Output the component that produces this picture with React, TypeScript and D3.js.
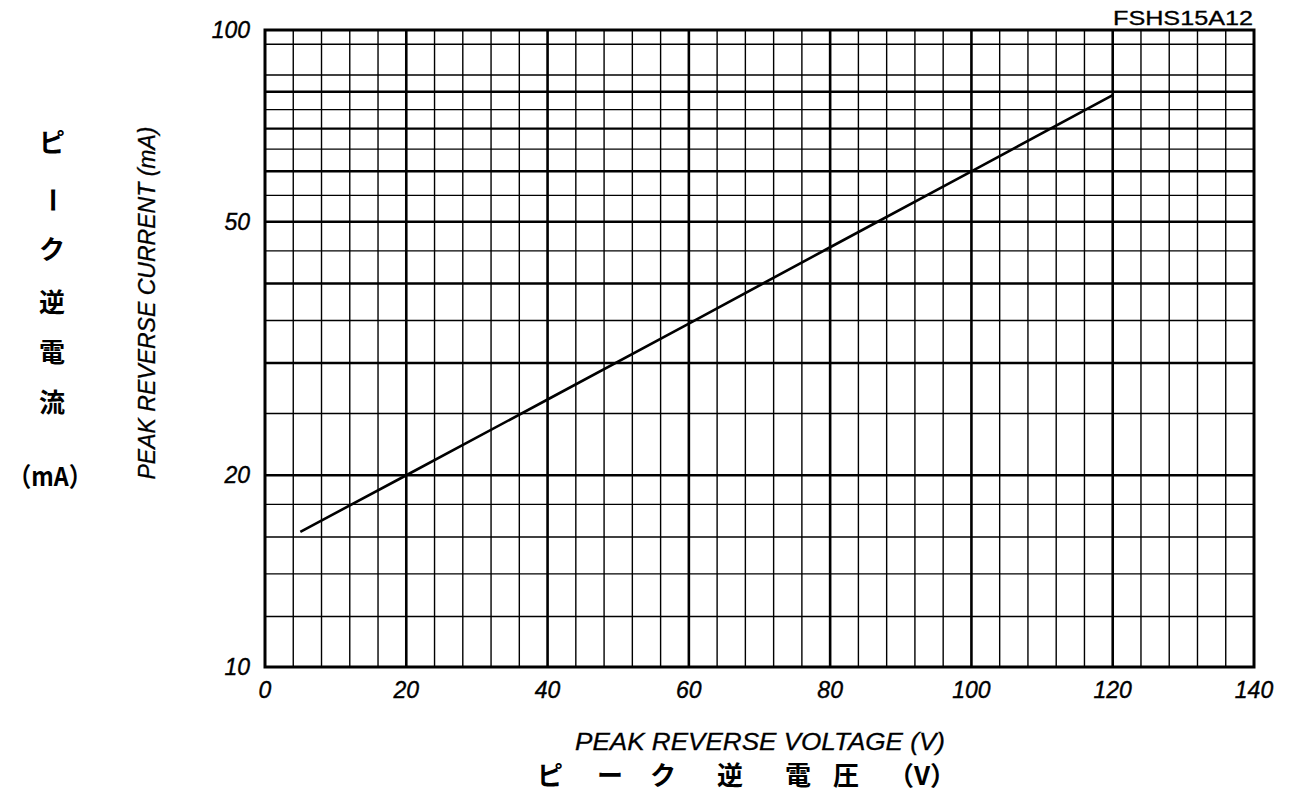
import React from "react";
import * as d3 from "d3";

const voltage = [5, 20, 40, 60, 80, 100, 120];
const current = [16.3, 20, 26.3, 34.6, 45.6, 60, 79];
const xTicks = [0, 20, 40, 60, 80, 100, 120, 140];
const yTickLabels = [10, 20, 50, 100];
const yMinorThin = [12, 14, 16, 18, 25, 35, 45, 55, 65, 75, 85, 95];
const yMajorThick = [20, 30, 40, 50, 60, 70, 80];
const yJapanese = ["ピ", "ー", "ク", "逆", "電", "流"];
const xJapanese = ["ピ", "ー", "ク", "逆", "電", "圧"];

const W = 1291, H = 796;
const L = 265, R = 1254, T = 30, B = 667;

export default function App() {
  const x = d3.scaleLinear().domain([0, 140]).range([L, R]);
  const y = d3.scaleLog().domain([10, 100]).range([B, T]);
  const xMinor = d3.range(0, 141, 4).filter((v) => v % 20 !== 0);
  const line = d3.line<number>().x((_, i) => x(voltage[i])).y((d) => y(d));
  const font = "'Liberation Sans', Arial, sans-serif";
  const jp = "'Noto Sans CJK JP', sans-serif";
  const jpY = [143, 200, 250, 303, 353, 403];
  const jpX = [550, 610, 663, 730, 798, 846];
  return (
    <svg width={W} height={H} style={{ position: "absolute", left: 0, top: 0, background: "#fff" }}>
      <rect width={W} height={H} fill="#fff" />
      {xMinor.map((v) => (
        <line key={"xm" + v} x1={x(v)} x2={x(v)} y1={T} y2={B} stroke="#000" strokeWidth={1.4} />
      ))}
      {xTicks.slice(1, -1).map((v) => (
        <line key={"xM" + v} x1={x(v)} x2={x(v)} y1={T} y2={B} stroke="#000" strokeWidth={2.6} />
      ))}
      {yMinorThin.map((v) => (
        <line key={"ym" + v} x1={L} x2={R} y1={y(v)} y2={y(v)} stroke="#000" strokeWidth={1.4} />
      ))}
      {yMajorThick.map((v) => (
        <line key={"yM" + v} x1={L} x2={R} y1={y(v)} y2={y(v)} stroke="#000" strokeWidth={2.4} />
      ))}
      <rect x={L} y={T} width={R - L} height={B - T} fill="none" stroke="#000" strokeWidth={3} />
      <path d={line(current) || ""} fill="none" stroke="#000" strokeWidth={2.6} />
      {yTickLabels.map((v) => (
        <text key={"yl" + v} x={250} y={y(v) + 8} textAnchor="end" fontFamily={font} fontStyle="italic" fontSize={23} stroke="#000" strokeWidth={0.4}>
          {v}
        </text>
      ))}
      {xTicks.map((v) => (
        <text key={"xl" + v} x={x(v)} y={698} textAnchor="middle" fontFamily={font} fontStyle="italic" fontSize={23} stroke="#000" strokeWidth={0.4}>
          {v}
        </text>
      ))}
      <text x={1253} y={25} textAnchor="end" fontFamily={font} fontSize={20} textLength={140} lengthAdjust="spacingAndGlyphs" stroke="#000" strokeWidth={0.3}>FSHS15A12</text>
      <text transform="translate(155,303) rotate(-90)" textAnchor="middle" fontFamily={font} fontStyle="italic" fontSize={23} textLength={353} lengthAdjust="spacingAndGlyphs" stroke="#000" strokeWidth={0.3}>
        PEAK REVERSE CURRENT (mA)
      </text>
      <text x={760} y={750} textAnchor="middle" fontFamily={font} fontStyle="italic" fontSize={24} textLength={370} lengthAdjust="spacingAndGlyphs" stroke="#000" strokeWidth={0.3}>
        PEAK REVERSE VOLTAGE (V)
      </text>
      {yJapanese.map((c, i) =>
        c === "ー" ? (
          <text key={"jy" + i} transform={`translate(52,${jpY[i]}) rotate(90)`} textAnchor="middle" dy="0.35em" fontFamily={jp} fontWeight="bold" fontSize={26}>{c}</text>
        ) : (
          <text key={"jy" + i} x={52} y={jpY[i]} textAnchor="middle" dy="0.35em" fontFamily={jp} fontWeight="bold" fontSize={26}>{c}</text>
        )
      )}
      <text x={50} y={477} textAnchor="middle" dy="0.35em" fontFamily={jp} fontWeight="bold" fontSize={26} textLength={84} lengthAdjust="spacingAndGlyphs">（mA）</text>
      {xJapanese.map((c, i) => (
        <text key={"jx" + i} x={jpX[i]} y={776} textAnchor="middle" dy="0.35em" fontFamily={jp} fontWeight="bold" fontSize={26}>{c}</text>
      ))}
      <text x={922} y={776} textAnchor="middle" dy="0.35em" fontFamily={jp} fontWeight="bold" fontSize={26}>（V）</text>
    </svg>
  );
}
